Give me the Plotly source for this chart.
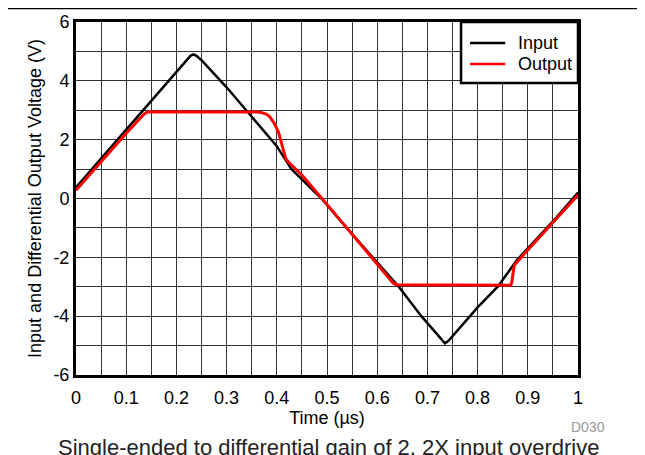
import plotly.graph_objects as go

# values (time in us, voltage in V)
input_t = [0.0, 0.05, 0.10, 0.15, 0.20, 0.22, 0.228, 0.234, 0.240, 0.250,
           0.30, 0.339, 0.40, 0.429, 0.489, 0.539, 0.592, 0.643, 0.688,
           0.720, 0.729, 0.735, 0.742, 0.752, 0.80, 0.841, 0.878, 0.95, 1.0]
input_v = [0.38, 1.36, 2.34, 3.32, 4.30, 4.70, 4.85, 4.90, 4.85, 4.70,
           3.78, 3.00, 1.78, 1.00, 0.0, -1.00, -2.00, -3.00, -4.00,
           -4.63, -4.84, -4.92, -4.84, -4.65, -3.70, -2.98, -2.10, -0.78,
           0.20]

output_t = [0.0, 0.05, 0.10, 0.135, 0.142, 0.15, 0.25, 0.36, 0.37, 0.38,
            0.386, 0.395, 0.403, 0.408, 0.413, 0.418, 0.423, 0.45, 0.50,
            0.55, 0.60, 0.625, 0.632, 0.638, 0.70, 0.80, 0.866, 0.868,
            0.871, 0.873, 0.90, 0.95, 1.0]
output_v = [0.28, 1.25, 2.22, 2.86, 2.94, 2.95, 2.95, 2.94, 2.92, 2.86,
            2.78, 2.55, 2.27, 1.95, 1.65, 1.35, 1.24, 0.80, -0.20,
            -1.22, -2.22, -2.75, -2.88, -2.93, -2.94, -2.95, -2.95, -2.85,
            -2.45, -2.27, -1.75, -0.80, 0.12]

x_ticks = [0, 0.1, 0.2, 0.3, 0.4, 0.5, 0.6, 0.7, 0.8, 0.9, 1]
x_tick_labels = ["0", "0.1", "0.2", "0.3", "0.4", "0.5", "0.6", "0.7",
                 "0.8", "0.9", "1"]
y_ticks = [-6, -4, -2, 0, 2, 4, 6]
y_tick_labels = ["-6", "-4", "-2", "0", "2", "4", "6"]

series_names = ["Input", "Output"]
series_colors = ["black", "#ff0000"]

fig = go.Figure()
fig.add_trace(go.Scatter(x=input_t, y=input_v, mode="lines",
                         name=series_names[0],
                         line=dict(color=series_colors[0], width=2.5)))
fig.add_trace(go.Scatter(x=output_t, y=output_v, mode="lines",
                         name=series_names[1],
                         line=dict(color=series_colors[1], width=3)))

family = "Liberation Sans, Arial, sans-serif"
axis_font = dict(family=family, size=18, color="black")
# the page adds an 8px body margin, so the figure is 16px smaller
fig.update_layout(
    width=637, height=447,
    margin=dict(l=68, r=67, t=14, b=80),
    paper_bgcolor="white", plot_bgcolor="white",
    font=axis_font,
    showlegend=False,
    xaxis=dict(range=[0, 1], tickvals=x_ticks, ticktext=x_tick_labels,
               automargin=False,
               showgrid=True, gridcolor="#333333", gridwidth=1,
               minor=dict(dtick=0.05, showgrid=True, gridcolor="#333333",
                          gridwidth=1),
               showline=True, linecolor="black", linewidth=3, mirror=True,
               ticks="", zeroline=False, tickfont=axis_font,
               ticklabelstandoff=4,
               title=dict(text="Time (µs)", font=axis_font, standoff=0)),
    yaxis=dict(range=[-6, 6], tickvals=y_ticks, ticktext=y_tick_labels,
               automargin=False,
               showgrid=True, gridcolor="#333333", gridwidth=1,
               minor=dict(dtick=1, showgrid=True, gridcolor="#333333",
                          gridwidth=1),
               showline=True, linecolor="black", linewidth=3, mirror=True,
               ticks="", zeroline=False, tickfont=axis_font,
               title=dict(text="Input and Differential Output Voltage (V)",
                          font=axis_font, standoff=8)),
)

# legend box drawn by hand so it keeps the reference's compact size
fig.add_shape(type="rect", xref="paper", yref="paper",
              x0=0.767, x1=1.0, y0=0.827, y1=1.0,
              fillcolor="white", line=dict(color="black", width=2.5),
              layer="above")
for i, (name, color) in enumerate(zip(series_names, series_colors)):
    row_y = 0.9405 - i * 0.0595
    fig.add_shape(type="line", xref="paper", yref="paper",
                  x0=0.785, x1=0.855, y0=row_y, y1=row_y,
                  line=dict(color=color, width=2.5), layer="above")
    fig.add_annotation(text=name, xref="paper", yref="paper",
                       x=0.8765, y=row_y, xanchor="left", yanchor="middle",
                       showarrow=False, font=axis_font)

# thin rule across the top of the page
fig.add_shape(type="line", xref="paper", yref="paper",
              x0=-0.16, x1=1.14, y0=1.0383, y1=1.0383,
              line=dict(color="black", width=1.5))

fig.add_annotation(text="D030", xref="paper", yref="paper", x=1.02,
                   y=-0.147, xanchor="center", yanchor="middle",
                   showarrow=False,
                   font=dict(family=family, size=14, color="#999999"))
fig.add_annotation(text="Single-ended to differential gain of 2, 2X input overdrive",
                   xref="paper", yref="paper", x=0.502, y=-0.204,
                   xanchor="center", yanchor="middle", showarrow=False,
                   font=dict(family=family, size=22, color="#222222"))

fig.write_html("out.html")
